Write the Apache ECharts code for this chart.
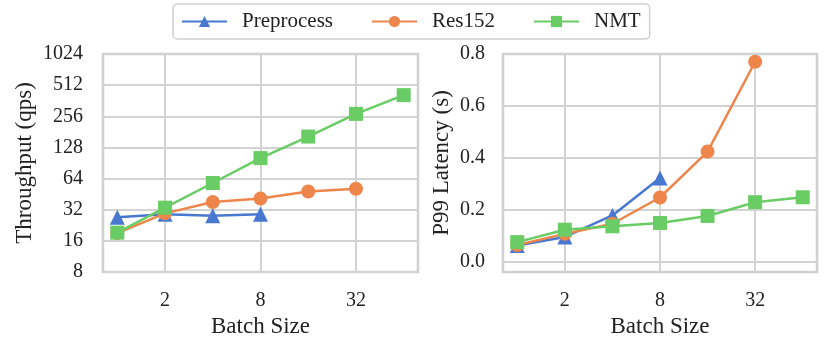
<!DOCTYPE html>
<html>
<head>
<meta charset="utf-8">
<script src="https://cdn.jsdelivr.net/npm/echarts@6/dist/echarts.min.js"></script>
<style>
  html, body { margin: 0; padding: 0; background: #fff; }
  #chart { width: 831px; height: 352px; }
</style>
</head>
<body>
<div id="chart"></div>
<script>
// batch sizes (x) for each series
const batchPre = [1, 2, 4, 8];
const batchAll = [1, 2, 4, 8, 16, 32, 64];

// throughput (qps)
const thrPreprocess = [27, 29, 28, 29];
const thrRes152 = [19, 29.5, 38, 41, 48, 51];
const thrNMT = [19.2, 33.5, 58, 101, 163, 270, 410];

// P99 latency (s)
const latPreprocess = [0.062, 0.095, 0.178, 0.322];
const latRes152 = [0.064, 0.107, 0.146, 0.247, 0.424, 0.77];
const latNMT = [0.075, 0.123, 0.136, 0.149, 0.176, 0.229, 0.248];

const xTicks = [2, 8, 32];
const thrTicks = [8, 16, 32, 64, 128, 256, 512, 1024];
const latTicks = [0, 0.2, 0.4, 0.6, 0.8];

const FONT = 'Liberation Serif';
const GRIDC = '#d3d3d3';
const colors = { pre: '#4878d0', res: '#ee854a', nmt: '#6acc64' };

const pairs = (xs, ys) => ys.map((y, i) => [xs[i], y]);

const xAxisBase = (gridIndex) => ({
  type: 'log',
  logBase: 2,
  gridIndex: gridIndex,
  min: Math.pow(2, -0.3),
  max: Math.pow(2, 6.3),
  name: 'Batch Size',
  nameLocation: 'middle',
  nameGap: 42,
  nameTextStyle: { fontFamily: FONT, fontSize: 23, color: '#222' },
  axisLine: { show: false },
  axisTick: { show: false, customValues: xTicks },
  axisLabel: { customValues: xTicks, fontFamily: FONT, fontSize: 20, color: '#222', margin: 19 },
  splitLine: { show: true, lineStyle: { color: GRIDC, width: 2 } }
});

function line(name, color, symbol, size, xIdx, data) {
  return {
    name: name,
    type: 'line',
    xAxisIndex: xIdx,
    yAxisIndex: xIdx,
    data: data,
    symbol: symbol,
    symbolSize: size,
    lineStyle: { color: color, width: 2.5 },
    itemStyle: { color: color },
    z: 3
  };
}

const chart = echarts.init(document.getElementById('chart'));
chart.setOption({
  animation: false,
  legend: {
    top: 4,
    left: 173,
    itemWidth: 45,
    itemHeight: 14,
    itemGap: 38,
    padding: [7, 9, 7, 8],
    borderColor: '#d0d0d0',
    borderWidth: 1.5,
    borderRadius: 4,
    formatter: '{t|{name}}',
    textStyle: {
      fontFamily: FONT, fontSize: 21, color: '#222',
      rich: { t: { fontFamily: FONT, fontSize: 21, color: '#222', padding: [0, 0, 0, 10] } }
    },
    data: ['Preprocess', 'Res152', 'NMT']
  },
  grid: [
    { left: 103, top: 54, width: 315, height: 218, show: true, borderColor: '#d0d0d0', borderWidth: 2.5, backgroundColor: 'transparent' },
    { left: 503, top: 54, width: 314, height: 218, show: true, borderColor: '#d0d0d0', borderWidth: 2.5, backgroundColor: 'transparent' }
  ],
  xAxis: [xAxisBase(0), xAxisBase(1)],
  yAxis: [
    {
      type: 'log',
      logBase: 2,
      gridIndex: 0,
      min: 8,
      max: 1024,
      name: 'Throughput (qps)',
      nameLocation: 'middle',
      nameGap: 67,
      nameTextStyle: { fontFamily: FONT, fontSize: 23, color: '#222' },
      axisLine: { show: false },
      axisTick: { show: false, customValues: thrTicks },
      axisLabel: { customValues: thrTicks, fontFamily: FONT, fontSize: 20, color: '#222', margin: 20, formatter: v => String(Math.round(v)) },
      splitLine: { show: true, lineStyle: { color: GRIDC, width: 2 } }
    },
    {
      type: 'value',
      gridIndex: 1,
      min: -0.04,
      max: 0.8,
      name: 'P99 Latency (s)',
      nameLocation: 'middle',
      nameGap: 50,
      nameTextStyle: { fontFamily: FONT, fontSize: 23, color: '#222' },
      axisLine: { show: false },
      axisTick: { show: false, customValues: latTicks },
      axisLabel: { customValues: latTicks, fontFamily: FONT, fontSize: 20, color: '#222', margin: 18, formatter: v => v.toFixed(1) },
      splitLine: { show: true, lineStyle: { color: GRIDC, width: 2 } }
    }
  ],
  series: [
    line('Preprocess', colors.pre, 'triangle', 15, 0, pairs(batchPre, thrPreprocess)),
    line('Res152', colors.res, 'circle', 14, 0, pairs(batchAll, thrRes152)),
    line('NMT', colors.nmt, 'rect', 14, 0, pairs(batchAll, thrNMT)),
    line('Preprocess', colors.pre, 'triangle', 15, 1, pairs(batchPre, latPreprocess)),
    line('Res152', colors.res, 'circle', 14, 1, pairs(batchAll, latRes152)),
    line('NMT', colors.nmt, 'rect', 14, 1, pairs(batchAll, latNMT))
  ]
});
</script>
</body>
</html>
